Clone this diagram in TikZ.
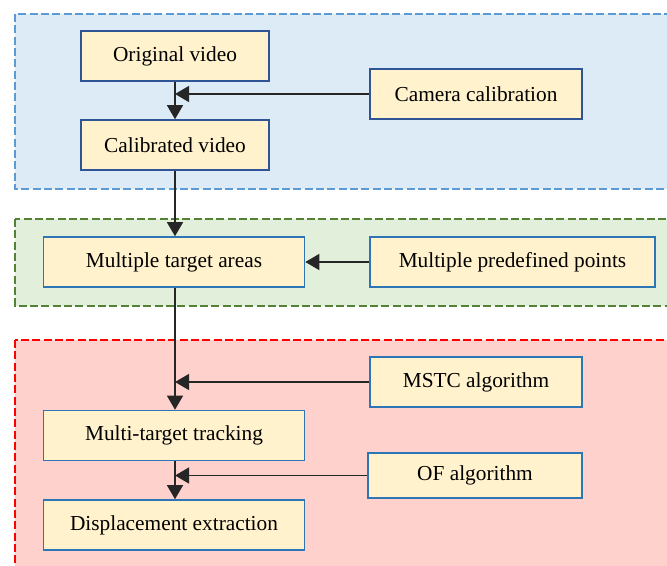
\documentclass[tikz,border=0pt]{standalone}
\usepackage{fontspec}
\setmainfont{Liberation Serif}
\usetikzlibrary{arrows.meta,positioning}

\definecolor{boxfill}{HTML}{FFF2CC}
\definecolor{boxdark}{HTML}{2F5597}
\definecolor{boxblue}{HTML}{2E75B6}
\definecolor{calfill}{HTML}{DDEBF7}
\definecolor{caldraw}{HTML}{5B9BD5}
\definecolor{roifill}{HTML}{E2EFDA}
\definecolor{roidraw}{HTML}{548235}
\definecolor{trkfill}{HTML}{FFD1CD}
\definecolor{trkdraw}{HTML}{FF0000}

\begin{document}
\begin{tikzpicture}[
    x=0.75pt, y=-0.75pt,
    flow/.style={-{Triangle[length=10.5pt, width=12pt]}, line width=1pt, draw=black!85},
    stage/.style={dash pattern=on 6pt off 2.5pt, line width=1.5pt},
    unit/.style={draw=boxblue, fill=boxfill, line width=1.2pt, inner sep=0pt,
        minimum height=37.5pt, font=\fontsize{16}{19}\selectfont},
    calunit/.style={unit, draw=boxdark, minimum width=141pt},
    mainunit/.style={unit, minimum width=195.75pt},
    sideunit/.style={unit, minimum width=159pt}
]
\useasboundingbox (0,0) rectangle (667,565);
\clip (0,0) rectangle (667,565);
% Stages
\draw[stage, draw=caldraw, fill=calfill] (15,14)  rectangle (690,189);
\draw[stage, draw=roidraw, fill=roifill] (15,219) rectangle (690,306);
\draw[stage, draw=trkdraw, fill=trkfill] (15,340) rectangle (690,590);
% Calibration
\node[calunit]  (orig)  at (175,56)  {Original video};
\node[calunit]  (calib) at (175,145) {Calibrated video};
\node[sideunit, draw=boxdark] (cam) at (476,94) {Camera calibration};
\draw[flow] (orig) -- (calib);
\draw[flow] (cam) -- (cam -| orig.south);
% Target areas
\node[mainunit] (areas)  at (174,262) {Multiple target areas};
\node[sideunit, minimum width=213.75pt] (points) at (512.5,262) {Multiple predefined points};
\draw[flow] (calib.south) -- (calib.south |- areas.north);
\draw[flow] (points) -- (areas);
% Tracking
\node[mainunit] (track) at (174,435.5) {Multi-target tracking};
\node[mainunit] (disp)  at (174,525)   {Displacement extraction};
\node[sideunit] (mstc)  at (476,382)   {MSTC algorithm};
\node[sideunit, minimum width=160.5pt, minimum height=33.75pt] (of) at (475,475.5) {OF algorithm};
\coordinate (trunk) at (calib.south |- areas.south);
\draw[flow] (trunk) -- (trunk |- track.north);
\draw[flow] (mstc) -- (mstc -| trunk);
\draw[flow] (trunk |- track.south) -- (trunk |- disp.north);
\draw[flow] (of) -- (of -| trunk);
\end{tikzpicture}
\end{document}
